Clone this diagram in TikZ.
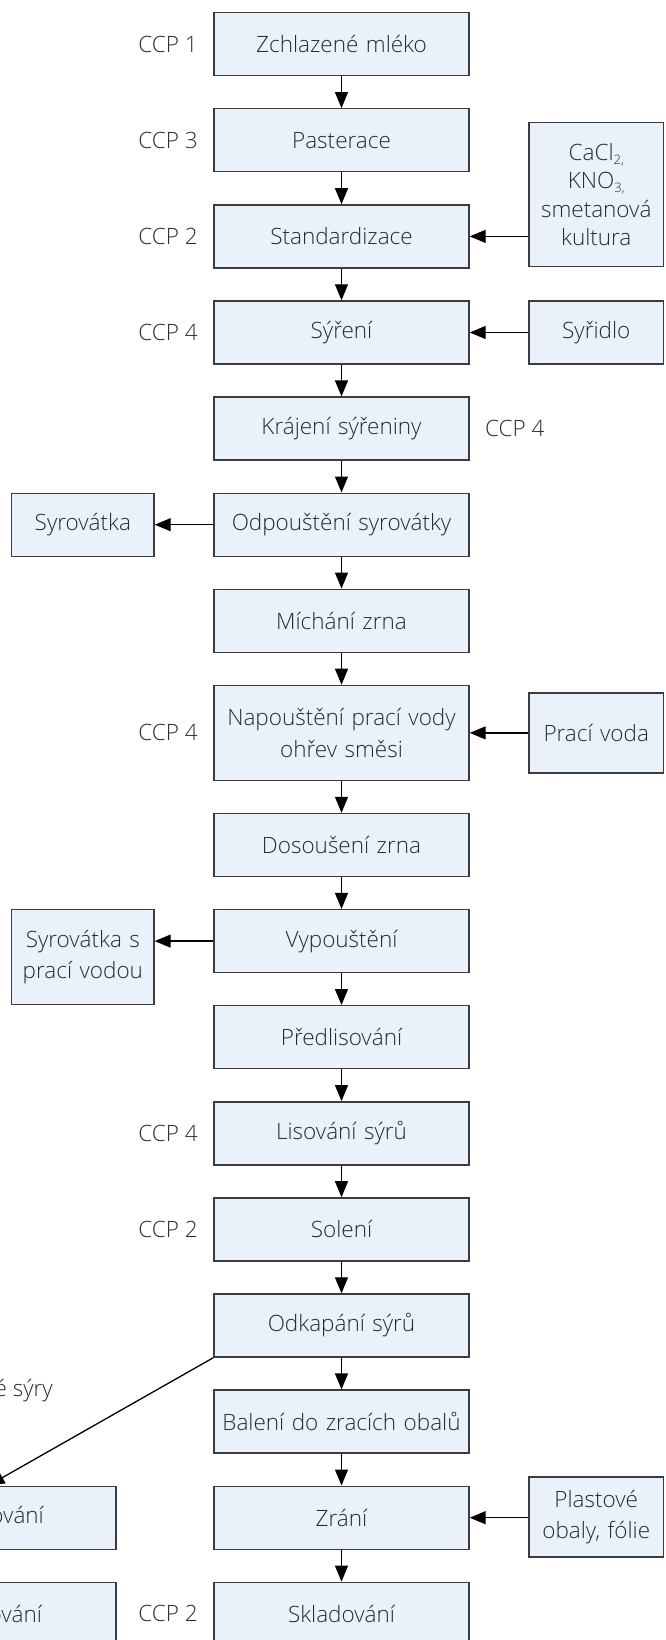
\documentclass[tikz,border=0pt]{standalone}
\usepackage{fontspec}
\IfFontExistsTF{Open Sans Light}{\setmainfont{Open Sans Light}}{\setmainfont{Open Sans}}
\usetikzlibrary{arrows.meta}
\definecolor{boxfill}{HTML}{E9F1FB}
\definecolor{boxline}{HTML}{3C3C3C}
\definecolor{txt}{HTML}{2A2A2A}
\tikzset{
  base/.style={draw=boxline, line width=1.4pt, fill=boxfill, text=txt,
    align=center, inner sep=2pt, font=\fontsize{22.5}{31.5}\selectfont},
  mainbox/.style={base, minimum width=255pt, minimum height=63pt, text width=250pt},
  tallbox/.style={mainbox, minimum height=95pt},
  sidebox/.style={base, minimum width=134.5pt, minimum height=63pt, text width=130pt},
  leftbox/.style={base, minimum width=142.3pt, minimum height=63pt, text width=138pt},
  ccp/.style={text=txt, inner sep=0pt, font=\fontsize{22.5}{26}\selectfont},
  arr/.style={draw=black, line width=1.3pt, -{Triangle[length=16pt,width=13pt]}}
}
\newcommand{\lowidx}[1]{\raisebox{-0.3ex}{\fontsize{13}{13}\selectfont #1}}
\begin{document}
\begin{tikzpicture}[x=1pt,y=-1pt]
\useasboundingbox (0,0) rectangle (665,1640);
\clip (0,0) rectangle (665,1640);

% main process column
\node[mainbox] (z)  at (341.5,44.2)   {Zchlazené mléko};
\node[mainbox] (p)  at (341.5,140.3)  {Pasterace};
\node[mainbox] (s)  at (341.5,236.4)  {Standardizace};
\node[mainbox] (sy) at (341.5,332.5)  {Sýření};
\node[mainbox] (k)  at (341.5,428.6)  {Krájení sýřeniny};
\node[mainbox] (o)  at (341.5,524.7)  {Odpouštění syrovátky};
\node[mainbox] (m)  at (341.5,620.8)  {Míchání zrna};
\node[tallbox] (n)  at (341.5,732.9)  {Napouštění prací vody\\ohřev směsi};
\node[mainbox] (d)  at (341.5,845.0)  {Dosoušení zrna};
\node[mainbox] (v)  at (341.5,941.1)  {Vypouštění};
\node[mainbox] (pr) at (341.5,1037.2) {Předlisování};
\node[mainbox] (l)  at (341.5,1133.3) {Lisování sýrů};
\node[mainbox] (so) at (341.5,1229.4) {Solení};
\node[mainbox] (od) at (341.5,1325.5) {Odkapání sýrů};
\node[mainbox] (b)  at (341.5,1421.6) {Balení do zracích obalů};
\node[mainbox] (zr) at (341.5,1517.7) {Zrání};
\node[mainbox] (sk) at (341.5,1613.8) {Skladování};

% inputs on the right
\node[sidebox, minimum height=144pt, font=\fontsize{22.5}{28.3}\selectfont] (ca) at (596.25,194.7)
  {CaCl\lowidx{2,}\\KNO\lowidx{3,}\\smetanová\\kultura};
\node[sidebox] (syr) at (596.25,332.5) {Syřidlo};
\node[sidebox, minimum height=80pt] (pv) at (596.25,732.9) {Prací voda};
\node[sidebox, minimum height=80pt] (pl) at (596.25,1516.9) {Plastové\\obaly, fólie};

% outputs on the left
\node[leftbox] (w1) at (82.85,524.7) {Syrovátka};
\node[leftbox, minimum height=95pt] (w2) at (82.85,957.1) {Syrovátka s\\prací vodou};

% branch for processed cheese
\node[mainbox] (t1) at (-11.5,1517.7) {Zpracování};
\node[mainbox] (t2) at (-11.5,1613.8) {Skladování};
\node[ccp, anchor=east] (tl) at (53,1391) {Tavené sýry};

% critical control points
\node[ccp, anchor=east] (c1)  at (198,44.2)   {CCP 1};
\node[ccp, anchor=east] (c3)  at (198,140.3)  {CCP 3};
\node[ccp, anchor=east] (c2)  at (198,236.4)  {CCP 2};
\node[ccp, anchor=east] (c4a) at (198,332.5)  {CCP 4};
\node[ccp, anchor=west] (c4b) at (485,428.6)  {CCP 4};
\node[ccp, anchor=east] (c4c) at (198,732.9)  {CCP 4};
\node[ccp, anchor=east] (c4d) at (198,1133.3) {CCP 4};
\node[ccp, anchor=east] (c2b) at (198,1229.4) {CCP 2};
\node[ccp, anchor=east] (c2c) at (198,1613.8) {CCP 2};

% flow
\foreach \a/\b in {z/p,p/s,s/sy,sy/k,k/o,o/m,m/n,n/d,d/v,v/pr,pr/l,l/so,so/od,od/b,b/zr,zr/sk}
  \draw[arr] (\a.south) -- (\b.north);

\draw[arr] (s.east -| ca.west) -- (s.east);
\draw[arr] (syr.west) -- (sy.east);
\draw[arr] (pv.west) -- (n.east);
\draw[arr] (zr.east -| pl.west) -- (zr.east);
\draw[arr] (o.west) -- (w1.east);
\draw[arr] (v.west) -- (v.west -| w2.east);
\draw[arr] (od.south west) -- (t1.north);
\end{tikzpicture}
\end{document}
